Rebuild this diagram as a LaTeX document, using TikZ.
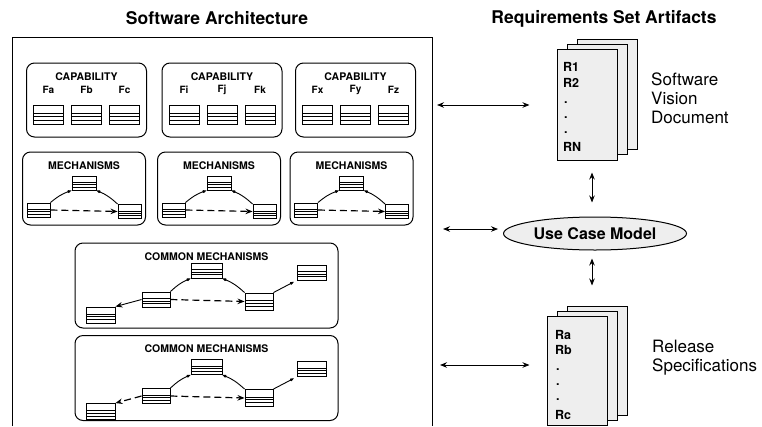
\documentclass[tikz,border=0pt]{standalone}
\usepackage{fontspec}
\setmainfont{TeX Gyre Heros}
\usetikzlibrary{arrows.meta,calc,shapes.geometric,positioning}

\tikzset{
  ttl/.style={font=\fontsize{17.5}{20}\selectfont\bfseries, inner sep=0pt},
  hd/.style={font=\fontsize{10.5}{12}\selectfont\bfseries, inner sep=0pt},
  flab/.style={font=\fontsize{10}{12}\selectfont\bfseries, inner sep=0pt},
  rlab/.style={font=\fontsize{12.5}{14}\selectfont\bfseries, inner sep=0pt, anchor=west},
  doclab/.style={font=\fontsize{17}{19}\selectfont, align=left, anchor=west, inner sep=0pt},
  grp/.style={draw, rounded corners=8pt, line width=1pt, inner sep=0pt},
  cls/.style={draw, line width=0.9pt, inner sep=0pt, fill=white,
    path picture={
      \foreach \f in {0.45,0.6,0.78}
        \draw[line width=0.6pt]
          ($(path picture bounding box.north west)!\f!(path picture bounding box.south west)$) --
          ($(path picture bounding box.north east)!\f!(path picture bounding box.south east)$);
    }},
  page/.style={draw, line width=1pt, fill=gray!13, minimum width=60pt, inner sep=0pt},
  link/.style={line width=0.9pt},
  dlink/.style={line width=1.2pt, dash pattern=on 7pt off 4pt},
  uses/.style={{Kite[length=4.5pt,width=3pt]}-},
  usedby/.style={-{Kite[length=4.5pt,width=3pt]}},
}

\begin{document}
\begin{tikzpicture}[x=1pt, y=-1pt, >={Stealth[length=7pt,width=5.5pt]}]
\useasboundingbox (0,0) rectangle (762,426);

% titles
\node[ttl] (satitle) at (217,18) {Software Architecture};
\node[ttl] (rstitle) at (604,19) {Requirements Set Artifacts};

% architecture frame
\draw[line width=0.8pt] (12,426) -- (12,37) -- (432,37) -- (432,426);

% capabilities
\foreach \n/\x/\fa/\fb/\fc in {1/86.5/Fa/Fb/Fc, 2/222/Fi/Fj/Fk, 3/355.5/Fx/Fy/Fz}{
  \node[grp, minimum width=120pt, minimum height=74pt] (cap\n) at (\x,100) {};
  \node[hd] (cap\n-t) at (\x,77) {CAPABILITY};
  \node[flab] (cap\n-la) at (\x-38,90) {\fa};
  \node[flab] (cap\n-lb) at (\x,90) {\fb};
  \node[flab] (cap\n-lc) at (\x+38,90) {\fc};
  \node[cls, minimum width=30pt, minimum height=19pt] (cap\n-a) at (\x-38,114.5) {};
  \node[cls, minimum width=30pt, minimum height=19pt] (cap\n-b) at (\x,114.5) {};
  \node[cls, minimum width=30pt, minimum height=19pt] (cap\n-c) at (\x+38,114.5) {};
}

% mechanisms
\foreach \n/\x in {1/84, 2/219, 3/351.5}{
  \node[grp, minimum width=123pt, minimum height=73pt] (mech\n) at (\x,188.5) {};
  \node[hd] (mech\n-t) at (\x,166) {MECHANISMS};
  \node[cls, minimum width=24pt, minimum height=14pt] (mech\n-top) at (\x,183) {};
  \node[cls, minimum width=23pt, minimum height=14pt] (mech\n-l) at (\x-45.5,210) {};
  \node[cls, minimum width=23pt, minimum height=14pt] (mech\n-r) at (\x+45.5,211.5) {};
  \draw[link, uses] (mech\n-top.south west) to[bend right=10] (mech\n-l.north east);
  \draw[link, uses] (mech\n-top.south east) to[bend left=10] (mech\n-r.north west);
  \draw[dlink, ->] (mech\n-l.east) -- (mech\n-r.west);
}

% common mechanisms
\foreach \n/\y/\dy in {1/285.5/0, 2/378/4}{
  \node[grp, minimum width=263pt, minimum height=85pt] (cm\n) at (206.5,\y) {};
  \node[hd] (cm\n-t) at (206.5,\y-29) {COMMON MECHANISMS};
  \node[cls, minimum width=31pt, minimum height=15pt] (cm\n-top) at (206.5,\y-15+\dy) {};
  \node[cls, minimum width=28pt, minimum height=15pt] (cm\n-ml) at (156,\y+14+\dy) {};
  \node[cls, minimum width=29pt, minimum height=16pt] (cm\n-ll) at (100.5,\y+29.5+\dy) {};
  \node[cls, minimum width=28pt, minimum height=17pt] (cm\n-r) at (259,\y+16+\dy) {};
  \node[cls, minimum width=29pt, minimum height=15pt] (cm\n-fr) at (311.5,\y-13+\dy) {};
  \draw[link, uses] (cm\n-top.south west) to[bend right=10] (cm\n-ml.north east);
  \draw[link, uses] (cm\n-top.south east) to[bend left=10] (cm\n-r.north west);
  \draw[link, usedby, shorten >=3pt] (cm\n-r.north east) -- (cm\n-fr.south west);
  \draw[dlink, ->] (cm\n-ml.east) -- (cm\n-r.west);
}
\draw[link, ->] (cm1-ml.west) -- (cm1-ll.north east);
\draw[dlink, ->] (cm2-ml.west) -- (cm2-ll.north east);

% software vision document
\node[page, minimum height=110pt] (vis3) at (607,94.5) {};
\node[page, minimum height=110pt] (vis2) at (597,99.5) {};
\node[page, minimum height=111pt] (vis1) at (587,104.5) {};
\node[rlab] (r1) at (563,67) {R1};
\node[rlab] (r2) at (563,83) {R2};
\node[rlab] (rd1) at (564,103) {.};
\node[rlab] (rd2) at (564,118) {.};
\node[rlab] (rd3) at (564,133) {.};
\node[rlab] (rn) at (563,147) {RN};
\node[doclab] (vislab) at (651,98.5) {Software\\Vision\\Document};

% use case model
\node[ellipse, draw, line width=1pt, fill=gray!13, minimum width=164pt, minimum height=33pt,
  font=\fontsize{16}{18}\selectfont\bfseries] (ucm) at (595,233.5) {Use Case Model};

% release specifications
\node[page, minimum height=109pt] (rel3) at (597,360.5) {};
\node[page, minimum height=109pt] (rel2) at (587,365.5) {};
\node[page, minimum height=109pt] (rel1) at (577,370.5) {};
\node[rlab] (ra) at (555,335) {Ra};
\node[rlab] (rb) at (555,350) {Rb};
\node[rlab] (re1) at (556,370) {.};
\node[rlab] (re2) at (556,385) {.};
\node[rlab] (re3) at (556,400) {.};
\node[rlab] (rc) at (555,415) {Rc};
\node[doclab] (rellab) at (652,357.5) {Release\\Specifications};

% connections
\coordinate (e1) at (437,105);
\coordinate (e2) at (443,229);
\coordinate (e3) at (440,365);
\path[<->, link]
  (e1) edge ([xshift=-27pt,yshift=-0.5pt]vis1.west)
  (e2) edge ([xshift=-5pt,yshift=4.5pt]ucm.west)
  (e3) edge ([xshift=-17pt,yshift=5.5pt]rel1.west)
  ([xshift=5pt,yshift=-12pt]vis1.south) edge ([xshift=-3pt,yshift=14pt]ucm.north)
  ([xshift=-3pt,yshift=-8pt]ucm.south) edge ([xshift=-5pt,yshift=20pt]rel3.north);
\end{tikzpicture}
\end{document}
